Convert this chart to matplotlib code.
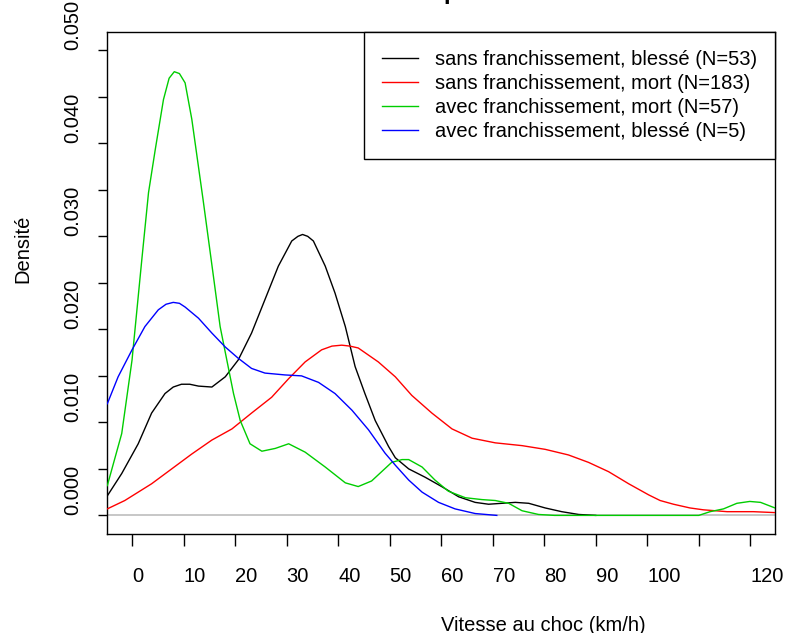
import numpy as np
import matplotlib
matplotlib.use('Agg')
import matplotlib.pyplot as plt

plt.rcParams['font.family'] = ['Liberation Sans', 'DejaVu Sans']

# Density curves (speed in km/h, density).
x_black = [-4.8, -2, 1.2, 3.8, 6.4, 8, 9.6, 11.2, 12.9, 15.5, 18.1, 20.6, 23.2, 25.8,
           28.4, 31, 32.2, 33.1, 34.1, 35.2, 37.5, 39.4, 41.4, 43.3, 45.2, 47.2, 49.8,
           51.1, 53.7, 56.9, 60.1, 63.4, 66.6, 69.2, 71.8, 74.4, 77, 80.2, 83.4, 86.7, 90]
y_black = [0.0021, 0.0045, 0.0077, 0.0110, 0.0131, 0.0138, 0.0141, 0.0141, 0.0139, 0.0138,
           0.0149, 0.0167, 0.0196, 0.0232, 0.0268, 0.0295, 0.0300, 0.0302, 0.0300, 0.0295,
           0.0268, 0.0239, 0.0203, 0.0160, 0.0131, 0.0102, 0.0074, 0.0062, 0.0050, 0.0041,
           0.0031, 0.0020, 0.0014, 0.0012, 0.0013, 0.0014, 0.0013, 0.0008, 0.0004, 0.0001,
           0.0]

x_red = [-4.8, -1.4, 3.8, 7.7, 11.6, 15.5, 19.4, 23.2, 27.1, 30.4, 33.6, 36.8, 38.8, 40.7,
         42.3, 43.9, 47.8, 51.1, 54.3, 58.2, 62.1, 66, 70.5, 75.7, 80.2, 84.7, 88.6, 92.5,
         96.4, 100.3, 102.5, 105.1, 108.3, 110.9, 115.5, 120.6, 124.8]
y_red = [0.0007, 0.0016, 0.0034, 0.0050, 0.0066, 0.0081, 0.0093, 0.0110, 0.0127, 0.0147,
         0.0165, 0.0178, 0.0182, 0.0183, 0.0182, 0.0180, 0.0165, 0.0149, 0.0129, 0.0110,
         0.0093, 0.0083, 0.0078, 0.0075, 0.0071, 0.0065, 0.0057, 0.0047, 0.0034, 0.0022,
         0.0016, 0.0012, 0.0008, 0.0006, 0.0004, 0.0004, 0.0003]

x_green = [-4.8, -2, 0, 1.9, 3.2, 4.5, 6.1, 7.2, 8.2, 9.2, 10.3, 11.6, 13.8, 15.8, 17.1,
           18.4, 19.7, 21, 22.9, 25.2, 27.8, 30.4, 33.6, 37.5, 41.4, 43.9, 46.5, 50.4,
           52.4, 53.7, 56.3, 58.8, 61.4, 64.7, 67.9, 70.5, 73.1, 75.7, 78.9, 82, 110, 112.2,
           114.8, 117.4, 119.9, 122, 124.8]
y_green = [0.0032, 0.0088, 0.0167, 0.0275, 0.0347, 0.0393, 0.0447, 0.0470, 0.0477, 0.0475,
           0.0465, 0.0426, 0.0339, 0.0257, 0.0203, 0.0167, 0.0131, 0.0102, 0.0077, 0.0069,
           0.0072, 0.0077, 0.0068, 0.0052, 0.0035, 0.0031, 0.0037, 0.0057, 0.0060, 0.0060,
           0.0052, 0.0038, 0.0026, 0.0019, 0.0017, 0.0016, 0.0013, 0.0005, 0.0001, 0.0, 0.0,
           0.0004, 0.0007, 0.0013, 0.0015, 0.0014, 0.0008]

x_blue = [-4.8, -2.7, 0, 2.5, 5.1, 6.6, 8, 9.2, 10.3, 12.9, 15.5, 18.1, 20.6, 23.2, 25.8,
          29.7, 32.9, 36.2, 39.4, 42.7, 45.9, 49.1, 51.1, 53.7, 56.3, 59.5, 62.7, 66.6, 70.8]
y_blue = [0.0120, 0.0149, 0.0178, 0.0203, 0.0221, 0.0227, 0.0229, 0.0228, 0.0224, 0.0212,
          0.0196, 0.0181, 0.0169, 0.0158, 0.0153, 0.0151, 0.0150, 0.0143, 0.0131, 0.0113,
          0.0092, 0.0067, 0.0054, 0.0038, 0.0025, 0.0014, 0.0007, 0.0002, 0.0]

labels = ['sans franchissement, blessé (N=53)',
          'sans franchissement, mort (N=183)',
          'avec franchissement, mort (N=57)',
          'avec franchissement, blessé (N=5)']
colors = ['black', '#FF0000', '#00CD00', '#0000FF']

x_ticks = [0, 10, 20, 30, 40, 50, 60, 70, 80, 90, 100, 110, 120]
x_ticklabels = ['0', '10', '20', '30', '40', '50', '60', '70', '80', '90', '100', '', '120']
y_ticks = [0.0, 0.01, 0.02, 0.03, 0.04, 0.05]
y_ticklabels = ['0.000', '0.010', '0.020', '0.030', '0.040', '0.050']
y_minor = [0.005, 0.015, 0.025, 0.035, 0.045]

fs = 14.5
W, H = 786, 633
left, right, top, bottom = 107.3, 775, 31.7, 534

fig = plt.figure(figsize=(W / 100, H / 100), dpi=100)
ax = fig.add_axes([left / W, 1 - bottom / H, (right - left) / W, (bottom - top) / H])

ax.plot(x_black, y_black, color=colors[0], lw=1.0, label=labels[0], zorder=3)
ax.axhline(0, color='#BEBEBE', lw=1.2, zorder=2)
ax.plot(x_red, y_red, color=colors[1], lw=1.0, label=labels[1], zorder=4)
ax.plot(x_green, y_green, color=colors[2], lw=1.0, label=labels[2], zorder=5)
ax.plot(x_blue, y_blue, color=colors[3], lw=1.0, label=labels[3], zorder=6)

ax.set_xlim(-4.8, 124.8)
ax.set_ylim(-0.002, 0.052)

for sp in ax.spines.values():
    sp.set_color('black')
    sp.set_linewidth(1.0)

# x axis: labels start at the tick (left anchored)
ax.set_xticks(x_ticks)
ax.set_xticklabels(x_ticklabels)
ax.tick_params(axis='x', direction='out', length=12 * 0.72, width=1.0,
               pad=36 * 0.72, labelsize=fs)
plt.setp(ax.get_xticklabels(), ha='left', va='baseline')

# y axis: rotated labels starting at the tick
ax.set_yticks(y_ticks)
ax.set_yticklabels(y_ticklabels)
ax.set_yticks(y_minor, minor=True)
ax.tick_params(axis='y', which='both', direction='out', length=9.5 * 0.72, width=1.0)
ax.tick_params(axis='y', which='major', pad=20 * 0.72, labelsize=fs)
plt.setp(ax.get_yticklabels(), rotation=90, rotation_mode='anchor',
         ha='left', va='baseline')

ax.set_xlabel('Vitesse au choc (km/h)', fontsize=fs, ha='left', va='baseline')
ax.xaxis.set_label_coords(0.5, -(631 - bottom) / (bottom - top))
ax.set_ylabel('Densité', fontsize=fs, rotation=90, rotation_mode='anchor',
              ha='left', va='baseline')
ax.yaxis.set_label_coords(-(left - 28) / (right - left), 0.5)

# title is cut off by the top edge; only the descender shows
fig.text(443 / W, 1 + 1 / H, 'p', fontsize=17.4, fontweight='bold',
         ha='left', va='baseline')

leg = ax.legend(loc='upper right', fontsize=fs, frameon=True, fancybox=False,
                framealpha=1, edgecolor='black', borderaxespad=0,
                borderpad=0.9, handlelength=1.75, handletextpad=0.85,
                labelspacing=0.25)
leg.get_frame().set_linewidth(1.0)

fig.savefig('out.png', dpi=100)
